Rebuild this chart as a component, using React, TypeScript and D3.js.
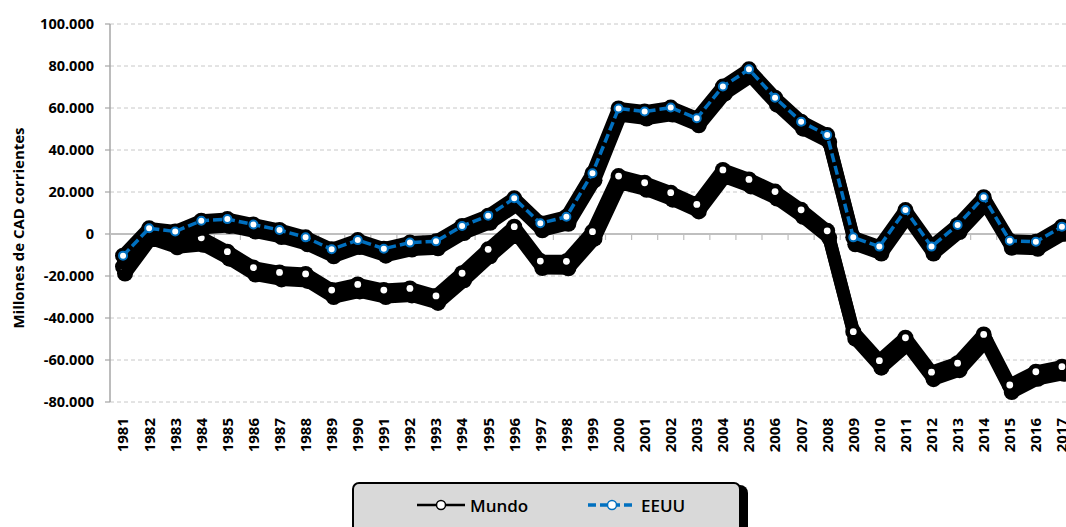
import React from "react";
import * as d3 from "d3";

const years: string[] = d3.range(1981, 2018).map(String);
const mundo: number[] = [
  -15500, 1200, -3000, -1800, -8400, -16000, -18300, -19000, -26700, -24000,
  -26700, -25900, -29500, -18700, -7300, 3500, -12900, -13000, 1100, 27600,
  24400, 19700, 14100, 30500, 26000, 20200, 11500, 1500, -46500, -60300,
  -49400, -65800, -61500, -47800, -71900, -65600, -63200,
];
const eeuu: number[] = [
  -10300, 2700, 1200, 6300, 7100, 4500, 1900, -1600, -7300, -2900,
  -7000, -4100, -3500, 3800, 8700, 17000, 5100, 8200, 28900, 59800,
  58300, 60200, 55100, 70200, 78400, 64900, 53500, 47100, -1600, -6000,
  11400, -6000, 4300, 17500, -3200, -3700, 3500,
];
const yTicks: number[] = [100000, 80000, 60000, 40000, 20000, 0, -20000, -40000, -60000, -80000];
const seriesNames = ["Mundo", "EEUU"];
const yTitle = "Millones de CAD corrientes";

const W = 1066;
const H = 527;
const left = 110;
const band = 26.08;

const x = d3
  .scaleBand<string>()
  .domain(years)
  .range([left, left + band * years.length])
  .padding(0);
const y = d3.scaleLinear().domain([-80000, 100000]).range([402, 24]);

const loc = d3.formatLocale({
  decimal: ",",
  thousands: ".",
  grouping: [3],
  currency: ["", ""],
  minus: "-",
} as any);
const fmt = loc.format(",");

const cx = (i: number) => (x(years[i]) as number) + x.bandwidth() / 2;
const lineGen = (vals: number[]) =>
  d3
    .line<number>()
    .x((_, i) => cx(i))
    .y((d) => y(d))(vals) as string;

const FONT = "'Open Sans', 'DejaVu Sans', sans-serif";

function Band({ vals }: { vals: number[] }) {
  const p = lineGen(vals);
  return (
    <g>
      <g transform="translate(2,7)">
        <path d={p} fill="none" stroke="#000" strokeWidth={13} strokeLinejoin="round" />
        {vals.map((v, i) => (
          <circle key={i} cx={cx(i)} cy={y(v)} r={8} fill="#000" />
        ))}
      </g>
      <path d={p} fill="none" stroke="#000" strokeWidth={13} strokeLinejoin="round" />
      {vals.map((v, i) => (
        <circle key={i} cx={cx(i)} cy={y(v)} r={8} fill="#000" />
      ))}
    </g>
  );
}

export default function App() {
  const zeroY = y(0);
  return (
    <svg
      width={W}
      height={H}
      style={{ position: "absolute", left: 0, top: 0, background: "#fff" }}
      fontFamily={FONT}
    >
      {yTicks.map((t) =>
        t === 0 ? null : (
          <line
            key={t}
            x1={left}
            x2={W}
            y1={y(t)}
            y2={y(t)}
            stroke="#c8c8c8"
            strokeWidth={1}
            strokeDasharray="4,3"
          />
        )
      )}
      <line x1={left} x2={left} y1={y(100000)} y2={y(-80000)} stroke="#a6a6a6" strokeWidth={1.5} />
      {yTicks.map((t) => (
        <line key={"t" + t} x1={left - 5} x2={left} y1={y(t)} y2={y(t)} stroke="#a6a6a6" strokeWidth={1.2} />
      ))}
      {yTicks.map((t) => (
        <text
          key={"l" + t}
          x={94}
          y={y(t)}
          dy="0.35em"
          textAnchor="end"
          fontSize={14.5}
          fontWeight={700}
          fill="#000"
        >
          {fmt(t)}
        </text>
      ))}
      <text
        transform={`translate(19,${228}) rotate(-90)`}
        textAnchor="middle"
        dy="0.35em"
        fontSize={15}
        fontWeight={700}
        fill="#000"
      >
        {yTitle}
      </text>
      <line x1={left} x2={W} y1={zeroY} y2={zeroY} stroke="#bfbfbf" strokeWidth={2} />
      {years.map((yr) => (
        <line
          key={"xt" + yr}
          x1={(x(yr) as number) + x.bandwidth()}
          x2={(x(yr) as number) + x.bandwidth()}
          y1={zeroY}
          y2={zeroY + 6}
          stroke="#bfbfbf"
          strokeWidth={1.2}
        />
      ))}
      {years.map((yr, i) => (
        <text
          key={"xl" + yr}
          transform={`translate(${cx(i)},418) rotate(-90)`}
          textAnchor="end"
          dy="0.36em"
          fontSize={15}
          fontWeight={700}
          fill="#000"
        >
          {yr}
        </text>
      ))}
      <Band vals={mundo} />
      {mundo.map((v, i) => (
        <circle key={"mw" + i} cx={cx(i)} cy={y(v)} r={3.4} fill="#fff" />
      ))}
      <Band vals={eeuu} />
      <path
        d={lineGen(eeuu)}
        fill="none"
        stroke="#0070c0"
        strokeWidth={3.5}
        strokeDasharray="9,4"
      />
      {eeuu.map((v, i) => (
        <circle key={"ew" + i} cx={cx(i)} cy={y(v)} r={4} fill="#fff" stroke="#0070c0" strokeWidth={2} />
      ))}
      <rect x={361} y={485} width={387} height={70} rx={8} fill="#000" />
      <rect x={353} y={483} width={387} height={70} rx={6} fill="#d9d9d9" stroke="#000" strokeWidth={2} />
      <line x1={417} x2={465} y1={505} y2={505} stroke="#000" strokeWidth={2.5} />
      <circle cx={441} cy={505} r={4.5} fill="#fff" stroke="#000" strokeWidth={1.5} />
      <text x={470} y={511.5} fontSize={17} fontWeight={600} fill="#000">
        {seriesNames[0]}
      </text>
      <line x1={588} x2={636} y1={505} y2={505} stroke="#0070c0" strokeWidth={3.5} strokeDasharray="8,4" />
      <circle cx={612} cy={505} r={4.5} fill="#fff" stroke="#0070c0" strokeWidth={1.5} />
      <text x={641} y={511.5} fontSize={17} fontWeight={600} fill="#000">
        {seriesNames[1]}
      </text>
    </svg>
  );
}
